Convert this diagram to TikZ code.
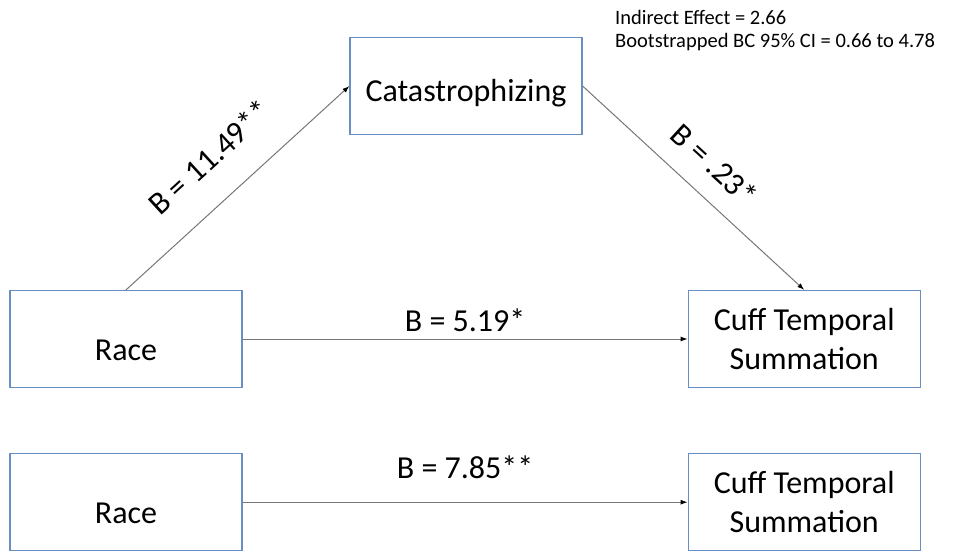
\documentclass[tikz,border=0pt]{standalone}
\usepackage{fontspec}
\setmainfont{Carlito}
\usetikzlibrary{positioning,arrows.meta}
\definecolor{boxblue}{RGB}{104,142,196}
\definecolor{linegray}{RGB}{118,118,118}

\begin{document}
\begin{tikzpicture}[
  x=1pt, y=-1pt,
  >={Latex[length=7pt,width=5pt,color=black]},
  box/.style={draw=boxblue, line width=1.2pt, align=center,
              font=\fontsize{32}{39}\selectfont,
              minimum width=232pt, minimum height=97pt, inner sep=0pt},
  low/.style={text height=42pt, text depth=0pt},
  link/.style={draw=linegray, line width=1pt, ->},
  coef/.style={font=\fontsize{32}{39}\selectfont, inner sep=0pt, text depth=0pt},
  node distance=65pt and 445pt
]
  \useasboundingbox (0,0) rectangle (958,551);

  \node[box, low] (race1) at (126,339) {Race};
  \node[box, right=of race1] (cuff1) {Cuff Temporal\\Summation};
  \node[box, text height=30pt, text depth=0pt] (catas) at (466,86) {Catastrophizing};
  \node[box, low, below=of race1] (race2) {Race};
  \node[box, right=of race2] (cuff2) {Cuff Temporal\\Summation};
  \node[anchor=north west, align=left, inner sep=0pt,
        font=\fontsize{20.5}{23.5}\selectfont] (note) at (615,10)
       {Indirect Effect = 2.66\\Bootstrapped BC 95\% CI = 0.66 to 4.78};

  \draw[link] (race1.north) -- node[coef, sloped, above=30pt] {B = 11.49**} (catas.west);
  \draw[link] (catas.east) -- node[coef, sloped, above=20pt] {B = .23*} (cuff1.north);
  \draw[link] (race1.east) -- node[coef, above=7pt] {B = 5.19*} (cuff1.west);
  \draw[link] (race2.east) -- node[coef, above=23pt] {B = 7.85**} (cuff2.west);
\end{tikzpicture}
\end{document}
